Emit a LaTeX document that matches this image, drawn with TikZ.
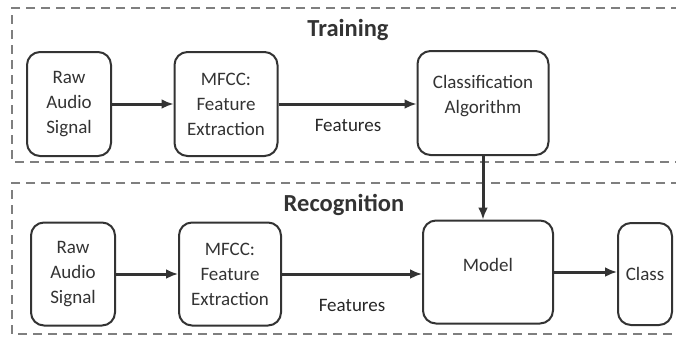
\documentclass[tikz,border=0pt]{standalone}
\usepackage{fontspec}
\setmainfont{Carlito}
\usepackage{tikz}
\usetikzlibrary{arrows,arrows.meta,calc}
\tikzset{>={Latex[length=12pt,width=10pt]}}
\definecolor{boxline}{HTML}{333333}
\definecolor{dashline}{HTML}{7F7F7F}
\tikzstyle{block}=[rectangle,draw=boxline,line width=2pt,rounded corners=13pt,align=center,text=boxline,font=\fontsize{19}{25}\selectfont,inner sep=0pt]
\tikzstyle{stage}=[dashline,line width=1.8pt,dash pattern=on 9pt off 6pt]
\tikzstyle{flow}=[->,boxline,line width=3pt]
\tikzstyle{title}=[font=\fontsize{24.5}{25}\selectfont\bfseries,text=boxline]
\tikzstyle{lbl}=[font=\fontsize{19}{25}\selectfont,text=black!85]

\begin{document}
\begin{tikzpicture}[x=1pt,y=-1pt]
\def \wid {680};

\useasboundingbox (0,0) rectangle (676,338);

% dashed stages
\draw[stage] (\wid,8) -- (12,8) -- (12,162) -- (\wid,162);
\draw[stage] (\wid,183) -- (12,183) -- (12,334) -- (\wid,334);

\node[title] (train) at (348,30) {Training};
\node[title] (recog) at (344,205) {Recognition};

% training row
\node[block,minimum width=84pt,minimum height=104pt] (raw1) at (69,104) {Raw\\Audio\\Signal};
\node[block,minimum width=103pt,minimum height=104pt] (mfcc1) at (226,104) {MFCC:\\Feature\\Extraction};
\node[block,minimum width=131pt,minimum height=104pt] (cls) at (483,103) {Classification\\Algorithm\\[-7pt]};

% recognition row
\node[block,minimum width=84pt,minimum height=103pt] (raw2) at (73,274) {Raw\\Audio\\Signal};
\node[block,minimum width=102pt,minimum height=103pt] (mfcc2) at (230,274) {MFCC:\\Feature\\Extraction};
\node[block,minimum width=130pt,minimum height=103pt] (model) at (488,272) {Model\\[-11pt]};
\node[block,minimum width=54pt,minimum height=102pt] (class) at (645,274) {Class};

\node[lbl] (feat1) at (348,125) {Features};
\node[lbl] (feat2) at (352,305) {Features};

\draw[flow] (raw1) -- (mfcc1);
\draw[flow] (mfcc1) -- (mfcc1 -| cls.west);
\draw[flow] (cls.south) -- (cls.south |- model.north);

\draw[flow] (raw2) -- (mfcc2);
\draw[flow] (mfcc2) -- (mfcc2 -| model.west);
\draw[flow] (model) -- (model -| class.west);

\end{tikzpicture}
\end{document}
